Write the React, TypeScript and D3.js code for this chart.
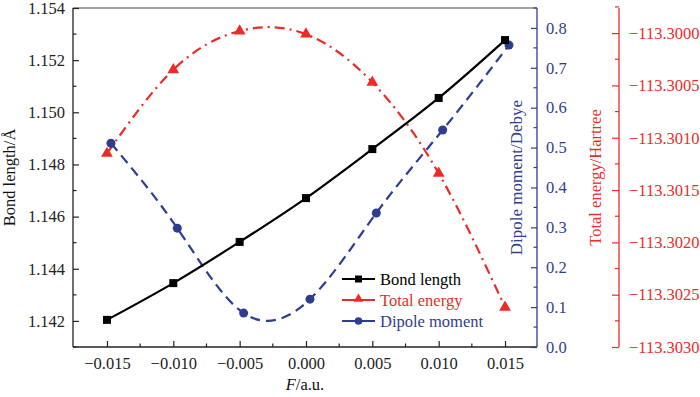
import React, { useRef, useEffect } from 'react'
import * as d3 from 'd3'

const fields = [-0.015, -0.01, -0.005, 0, 0.005, 0.01, 0.015]
const dipoleFields = [-0.0147, -0.0097, -0.0047, 0.0003, 0.0053, 0.0103, 0.0153]
const bondLength = [1.14204, 1.14345, 1.14503, 1.14671, 1.14859, 1.15055, 1.15277]
const totalEnergy = [-113.30115, -113.30035, -113.29998, -113.30001, -113.30047, -113.30134, -113.30262]
const dipoleMoment = [0.511, 0.298, 0.085, 0.12, 0.336, 0.544, 0.757]

const xTicks = [-0.015, -0.01, -0.005, 0, 0.005, 0.01, 0.015]
const xMinor = [-0.0125, -0.0075, -0.0025, 0.0025, 0.0075, 0.0125]
const bondTicks = [1.142, 1.144, 1.146, 1.148, 1.15, 1.152, 1.154]
const bondMinor = [1.141, 1.143, 1.145, 1.147, 1.149, 1.151, 1.153]
const dipoleTicks = [0, 0.1, 0.2, 0.3, 0.4, 0.5, 0.6, 0.7, 0.8]
const dipoleMinor = [0.05, 0.15, 0.25, 0.35, 0.45, 0.55, 0.65, 0.75, 0.85]
const energyTicks = [-113.303, -113.3025, -113.302, -113.3015, -113.301, -113.3005, -113.3]
const energyMinor = [-113.30275, -113.30225, -113.30175, -113.30125, -113.30075, -113.30025, -113.29975]

const RED = '#ec2b26'
const BLUE = '#2f3d8f'
const FONT = '"Liberation Serif", "Times New Roman", serif'

const App = () => {
    const ref = useRef<SVGSVGElement | null>(null)

    useEffect(() => {
        if (!ref.current) return
        const svg = d3.select(ref.current)
        svg.selectAll('*').remove()

        const left = 73, right = 537, top = 8, bottom = 347

        const x = d3.scaleLinear().domain([-0.01756, 0.01741]).range([left, right])
        const yBond = d3.scaleLinear().domain([1.141, 1.154]).range([bottom, top])
        const yDip = d3.scaleLinear().domain([0, 0.85]).range([bottom, top])
        const yEn = d3.scaleLinear().domain([-113.303, -113.29976]).range([bottom, top])

        const styleAxis = (g, color) => {
            g.selectAll('path').attr('stroke', color).attr('stroke-width', 1.3)
            g.selectAll('line').attr('stroke', color).attr('stroke-width', 1.2)
            g.selectAll('text').attr('fill', color).attr('font-family', FONT).attr('font-size', 16.5)
        }

        // frame top
        svg.append('line')
            .attr('x1', left).attr('x2', right).attr('y1', top).attr('y2', top)
            .attr('stroke', '#444').attr('stroke-width', 1.2)

        // bottom axis
        const gx = svg.append('g').attr('transform', `translate(0,${bottom})`)
        gx.call(d3.axisBottom(x).tickValues(xTicks).tickSize(-6).tickPadding(10).tickFormat(d3.format('.3f')))
        gx.append('g').selectAll('line').data(xMinor).join('line')
            .attr('x1', d => x(d)).attr('x2', d => x(d)).attr('y1', 0).attr('y2', -3.5)
        styleAxis(gx, '#222')
        gx.select('.domain').attr('d', `M${left},0H${right}`)

        // left axis
        const gl = svg.append('g').attr('transform', `translate(${left},0)`)
        gl.call(d3.axisLeft(yBond).tickValues(bondTicks).tickSize(-6).tickPadding(8).tickFormat(d3.format('.3f')))
        gl.append('g').selectAll('line').data(bondMinor).join('line')
            .attr('x1', 0).attr('x2', 3.5).attr('y1', d => yBond(d)).attr('y2', d => yBond(d))
        styleAxis(gl, '#222')
        gl.select('.domain').attr('d', `M0,${top}V${bottom}`)

        // dipole axis
        const gd = svg.append('g').attr('transform', `translate(${right},0)`)
        gd.call(d3.axisRight(yDip).tickValues(dipoleTicks).tickSize(-6).tickPadding(9).tickFormat(d3.format('.1f')))
        gd.append('g').selectAll('line').data(dipoleMinor).join('line')
            .attr('x1', 0).attr('x2', -3.5).attr('y1', d => yDip(d)).attr('y2', d => yDip(d))
        styleAxis(gd, BLUE)
        gd.select('.domain').attr('d', `M0,${top}V${bottom}`)

        // energy axis
        const eX = 619
        const ge = svg.append('g').attr('transform', `translate(${eX},0)`)
        ge.call(d3.axisRight(yEn).tickValues(energyTicks).tickSize(-7).tickPadding(10).tickFormat(d3.format('.4f')))
        ge.append('g').selectAll('line').data(energyMinor).join('line')
            .attr('x1', 0).attr('x2', -4).attr('y1', d => yEn(d)).attr('y2', d => yEn(d))
        styleAxis(ge, RED)
        ge.select('.domain').attr('d', `M0,${top}V${bottom}`)

        // axis titles
        svg.append('text')
            .attr('transform', `translate(15,${(top + bottom) / 2}) rotate(-90)`)
            .attr('text-anchor', 'middle').attr('font-family', FONT).attr('font-size', 16.5)
            .attr('fill', '#111').text('Bond length/Å')
        svg.append('text')
            .attr('transform', `translate(522,${(top + bottom) / 2}) rotate(-90)`)
            .attr('text-anchor', 'middle').attr('font-family', FONT).attr('font-size', 17)
            .attr('fill', BLUE).text('Dipole moment/Debye')
        svg.append('text')
            .attr('transform', `translate(601,${(top + bottom) / 2}) rotate(-90)`)
            .attr('text-anchor', 'middle').attr('font-family', FONT).attr('font-size', 16.5)
            .attr('fill', RED).text('Total energy/Hartree')
        const xt = svg.append('text')
            .attr('x', (left + right) / 2).attr('y', 390)
            .attr('text-anchor', 'middle').attr('font-family', FONT).attr('font-size', 16.5).attr('fill', '#111')
        xt.append('tspan').attr('font-style', 'italic').text('F')
        xt.append('tspan').text('/a.u.')

        // series
        const bondData = fields.map((f, i) => [f, bondLength[i]])
        const enData = fields.map((f, i) => [f, totalEnergy[i]])
        const dipData = dipoleFields.map((f, i) => [f, dipoleMoment[i]])

        svg.append('path').datum(dipData)
            .attr('fill', 'none').attr('stroke', BLUE).attr('stroke-width', 2.2)
            .attr('stroke-dasharray', '10,6')
            .attr('d', d3.line().x(d => x(d[0])).y(d => yDip(d[1])).curve(d3.curveNatural))
        svg.append('path').datum(enData)
            .attr('fill', 'none').attr('stroke', RED).attr('stroke-width', 2.2)
            .attr('stroke-dasharray', '10,5,2,5')
            .attr('d', d3.line().x(d => x(d[0])).y(d => yEn(d[1])).curve(d3.curveNatural))
        svg.append('path').datum(bondData)
            .attr('fill', 'none').attr('stroke', '#000').attr('stroke-width', 2.2)
            .attr('d', d3.line().x(d => x(d[0])).y(d => yBond(d[1])).curve(d3.curveNatural))

        const tri = d3.symbol().type(d3.symbolTriangle).size(60)
        svg.append('g').selectAll('path').data(enData).join('path')
            .attr('d', tri).attr('fill', RED)
            .attr('transform', d => `translate(${x(d[0])},${yEn(d[1])})`)
        svg.append('g').selectAll('circle').data(dipData).join('circle')
            .attr('cx', d => x(d[0])).attr('cy', d => yDip(d[1])).attr('r', 4.5).attr('fill', BLUE)
        svg.append('g').selectAll('rect').data(bondData).join('rect')
            .attr('x', d => x(d[0]) - 4).attr('y', d => yBond(d[1]) - 4)
            .attr('width', 8).attr('height', 8).attr('fill', '#000')

        // legend
        const legend = [
            { label: 'Bond length', color: '#000', mark: 'square', y: 279 },
            { label: 'Total energy', color: RED, mark: 'triangle', y: 300 },
            { label: 'Dipole moment', color: BLUE, mark: 'circle', y: 321 },
        ]
        const lg = svg.append('g')
        legend.forEach(it => {
            lg.append('line').attr('x1', 342).attr('x2', 375).attr('y1', it.y).attr('y2', it.y)
                .attr('stroke', it.color).attr('stroke-width', 2.2)
            if (it.mark === 'square') {
                lg.append('rect').attr('x', 355).attr('y', it.y - 3.5).attr('width', 7).attr('height', 7).attr('fill', it.color)
            } else if (it.mark === 'triangle') {
                lg.append('path').attr('d', d3.symbol().type(d3.symbolTriangle).size(40)).attr('fill', it.color)
                    .attr('transform', `translate(358.5,${it.y - 1})`)
            } else {
                lg.append('circle').attr('cx', 358.5).attr('cy', it.y).attr('r', 3.8).attr('fill', it.color)
            }
            lg.append('text').attr('x', 380).attr('y', it.y + 5.5)
                .attr('font-family', FONT).attr('font-size', 16.5).attr('fill', it.color).text(it.label)
        })
    }, [])

    return (
        <svg ref={ref} width={700} height={397}
            style={{ position: 'absolute', left: 0, top: 0, background: '#fff' }} />
    )
}

export default App
